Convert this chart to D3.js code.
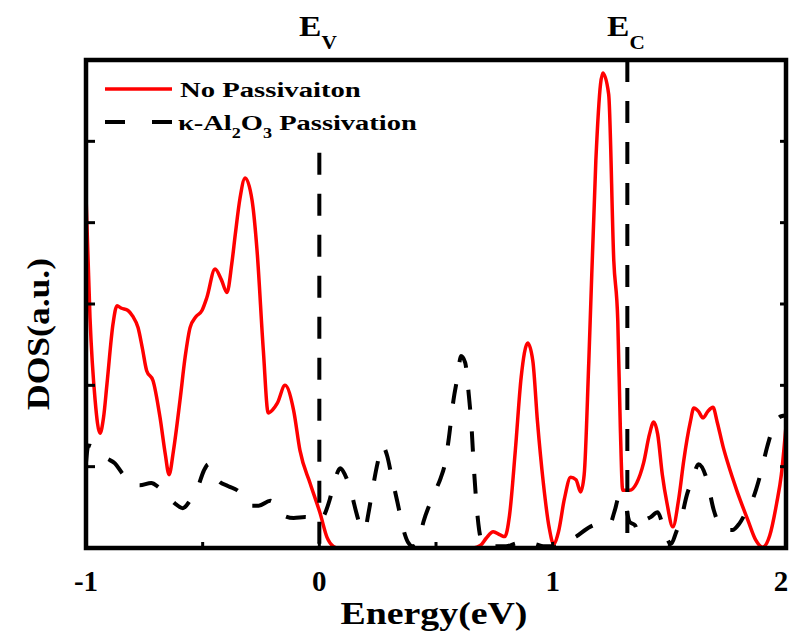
<!DOCTYPE html>
<html><head><meta charset="utf-8">
<script src="https://cdn.jsdelivr.net/npm/d3@7"></script>
<style>body{margin:0;background:#fff}svg{display:block}</style>
</head><body>
<svg id="c" width="790" height="635"></svg>
<script>
// ---- data ----
const redE   = [-1,-0.983,-0.961,-0.94,-0.925,-0.91,-0.884,-0.867,-0.85,-0.82,-0.8,-0.777,-0.758,-0.74,-0.713,-0.683,-0.66,-0.644,-0.625,-0.597,-0.575,-0.554,-0.53,-0.503,-0.482,-0.447,-0.42,-0.396,-0.375,-0.36,-0.34,-0.318,-0.288,-0.267,-0.24,-0.219,-0.2,-0.18,-0.147,-0.11,-0.083,-0.04,0.003,0.033,0.06,0.08,0.3,0.66,0.69,0.715,0.745,0.775,0.795,0.815,0.84,0.865,0.893,0.915,0.935,0.96,0.985,1.004,1.025,1.05,1.077,1.1,1.12,1.135,1.155,1.185,1.205,1.215,1.24,1.262,1.279,1.29,1.3,1.33,1.36,1.39,1.415,1.433,1.45,1.47,1.49,1.515,1.54,1.562,1.59,1.605,1.625,1.644,1.665,1.687,1.705,1.73,1.75,1.79,1.837,1.87,1.9,1.93,1.96,1.98,2.0];
const redDOS = [4.33,2.84,1.82,1.41,1.6,2.02,2.76,2.98,2.95,2.92,2.85,2.71,2.45,2.18,2.06,1.61,1.15,0.9,1.2,1.82,2.35,2.71,2.84,2.92,3.08,3.43,3.3,3.14,3.5,3.86,4.3,4.55,4.27,3.66,2.43,1.66,1.7,1.78,2.0,1.69,1.2,0.8,0.43,0.13,0.02,0,0,0,0.03,0.12,0.2,0.16,0.14,0.4,1.2,2.1,2.52,2.3,1.55,0.8,0.25,0.05,0.2,0.6,0.87,0.84,0.69,0.9,2.3,4.76,5.7,5.84,5.58,3.53,2.8,1.48,0.71,0.71,0.8,1.05,1.4,1.55,1.4,0.9,0.55,0.26,0.6,1.08,1.55,1.72,1.68,1.6,1.68,1.73,1.55,1.25,1.05,0.7,0.34,0.1,0.01,0.15,0.55,0.9,1.5];
const pasE   = [-1,-0.99,-0.975,-0.95,-0.91,-0.876,-0.845,-0.81,-0.77,-0.72,-0.69,-0.66,-0.62,-0.585,-0.555,-0.524,-0.495,-0.475,-0.455,-0.433,-0.39,-0.352,-0.32,-0.296,-0.26,-0.21,-0.185,-0.16,-0.11,-0.06,-0.03,0,0.02,0.045,0.065,0.09,0.11,0.135,0.16,0.18,0.195,0.21,0.228,0.25,0.27,0.29,0.31,0.335,0.36,0.38,0.4,0.425,0.446,0.476,0.5,0.52,0.54,0.555,0.575,0.592,0.607,0.625,0.64,0.652,0.662,0.674,0.685,0.7,0.73,0.8,0.85,0.88,0.92,0.96,1.0,1.05,1.1,1.16,1.2,1.246,1.265,1.285,1.305,1.33,1.353,1.365,1.396,1.42,1.45,1.47,1.49,1.507,1.53,1.55,1.575,1.6,1.625,1.66,1.69,1.715,1.74,1.77,1.8,1.83,1.86,1.89,1.92,1.95,1.98,2.0];
const pasDOS = [1.05,1.26,1.25,1.18,1.1,1.04,0.92,0.81,0.77,0.8,0.75,0.67,0.55,0.49,0.58,0.72,0.95,1.03,0.95,0.83,0.76,0.71,0.62,0.52,0.52,0.58,0.52,0.41,0.37,0.38,0.36,0.34,0.4,0.6,0.82,0.98,0.9,0.7,0.42,0.24,0.22,0.42,0.72,1.05,1.26,1.14,0.88,0.56,0.23,0.07,0.02,0.08,0.32,0.56,0.72,0.86,1.06,1.35,1.82,2.1,2.36,2.28,1.9,1.5,1.0,0.52,0.22,0.06,0.02,0.02,0.06,0.03,0.05,0.02,0.02,0.06,0.14,0.26,0.3,0.3,0.45,0.63,0.6,0.32,0.28,0.2,0.34,0.38,0.44,0.3,0.12,0.05,0.2,0.35,0.65,0.85,1.03,0.85,0.47,0.28,0.22,0.22,0.3,0.45,0.62,0.9,1.25,1.52,1.62,1.63];
const xTickLabels = ["-1","0","1","2"];
const xTickValues = [-1,0,1,2];
const xMinorTicks = [-0.5,0,0.5,1,1.5];
const yTickValues = [1,2,3,4,5];
const eV = 0, eC = 1.32, eVTop = 4.86;
const seriesNames = ["No Passivaiton","κ-Al2O3 Passivation"];

// ---- layout ----
const svg = d3.select("#c");
const L=86,R=786,T=60,B=548;
const x = d3.scaleLinear().domain([-1,2]).range([L,R]);
const y = d3.scaleLinear().domain([0,6]).range([B,T]);
const serif = "'Liberation Serif','Times New Roman',serif";

function fit(sel, target){
  const w = sel.node().getComputedTextLength();
  return target / w;
}

// curves
const line = d3.line().x(d=>x(d[0])).y(d=>y(d[1])).curve(d3.curveMonotoneX);
svg.append("defs").append("clipPath").attr("id","clip").append("rect")
  .attr("x",L).attr("y",T).attr("width",R-L).attr("height",B-T);
const g = svg.append("g").attr("clip-path","url(#clip)");
g.append("path").datum(pasE.map((e,i)=>[e,pasDOS[i]])).attr("d",line)
  .attr("fill","none").attr("stroke","#000").attr("stroke-width",4).attr("stroke-dasharray","20,22");
g.append("path").datum(redE.map((e,i)=>[e,redDOS[i]])).attr("d",line)
  .attr("fill","none").attr("stroke","#ff0000").attr("stroke-width",3.5).attr("stroke-linejoin","round");

// vertical reference lines
svg.append("line").attr("x1",x(eV)).attr("x2",x(eV)).attr("y1",y(eVTop)).attr("y2",B)
  .attr("stroke","#000").attr("stroke-width",4).attr("stroke-dasharray","22,19");
svg.append("line").attr("x1",x(eC)).attr("x2",x(eC)).attr("y1",T).attr("y2",B)
  .attr("stroke","#000").attr("stroke-width",4).attr("stroke-dasharray","22,19");

// axes ticks (inward)
const ax = svg.append("g");
ax.selectAll(".bt").data(xMinorTicks).join("line")
  .attr("x1",d=>x(d)).attr("x2",d=>x(d)).attr("y1",B).attr("y2",B-6)
  .attr("stroke","#000").attr("stroke-width",3);
ax.selectAll(".lt").data(yTickValues).join("line")
  .attr("x1",L).attr("x2",L+9).attr("y1",d=>y(d)).attr("y2",d=>y(d))
  .attr("stroke","#000").attr("stroke-width",3);
ax.selectAll(".rt").data(yTickValues).join("line")
  .attr("x1",R).attr("x2",R-6).attr("y1",d=>y(d)).attr("y2",d=>y(d))
  .attr("stroke","#000").attr("stroke-width",3);
// frame
svg.append("rect").attr("x",L).attr("y",T).attr("width",R-L).attr("height",B-T)
  .attr("fill","none").attr("stroke","#000").attr("stroke-width",4.5);

// tick labels
svg.selectAll(".xl").data(xTickValues).join("text")
  .attr("x",d=>Math.min(x(d),781)).attr("y",591).attr("text-anchor","middle")
  .attr("font-family",serif).attr("font-weight","bold").attr("font-size",29)
  .text((d,i)=>xTickLabels[i]);

// axis titles
const xt = svg.append("text").attr("text-anchor","middle")
  .attr("font-family",serif).attr("font-weight","bold").attr("font-size",32).text("Energy(eV)");
xt.attr("transform",`translate(434,624) scale(${fit(xt,187)},1)`);
const yt = svg.append("text").attr("text-anchor","middle")
  .attr("font-family",serif).attr("font-weight","bold").attr("font-size",32).text("DOS(a.u.)");
yt.attr("transform",`translate(49,334) rotate(-90) scale(${fit(yt,152)},1)`);

// E labels
function eLabel(cx, sub){
  const t = svg.append("text").attr("font-family",serif).attr("font-weight","bold")
    .attr("font-size",30).attr("transform",`translate(${cx},36) scale(1.12,1)`);
  t.append("tspan").text("E");
  t.append("tspan").attr("font-size",19).attr("dy",13).text(sub);
}
eLabel(299,"V");
eLabel(607,"C");

// legend
svg.append("line").attr("x1",105).attr("x2",172).attr("y1",89).attr("y2",89)
  .attr("stroke","#ff0000").attr("stroke-width",3.5);
svg.append("line").attr("x1",105).attr("x2",172).attr("y1",122).attr("y2",122)
  .attr("stroke","#000").attr("stroke-width",4).attr("stroke-dasharray","20,27");
const l1 = svg.append("text").attr("font-family",serif).attr("font-weight","bold")
  .attr("font-size",22).text(seriesNames[0]);
l1.attr("transform",`translate(180,97) scale(${fit(l1,181)},1)`);
const l2 = svg.append("text").attr("font-family",serif).attr("font-weight","bold").attr("font-size",22);
l2.append("tspan").text("κ-Al");
l2.append("tspan").attr("font-size",14).attr("dy",8).text("2");
l2.append("tspan").attr("dy",-8).text("O");
l2.append("tspan").attr("font-size",14).attr("dy",8).text("3");
l2.append("tspan").attr("dy",-8).text(" Passivation");
const w2 = l2.node().getBBox().width;
l2.attr("transform",`translate(178,130) scale(${239/w2},1)`);
</script>
</body></html>
